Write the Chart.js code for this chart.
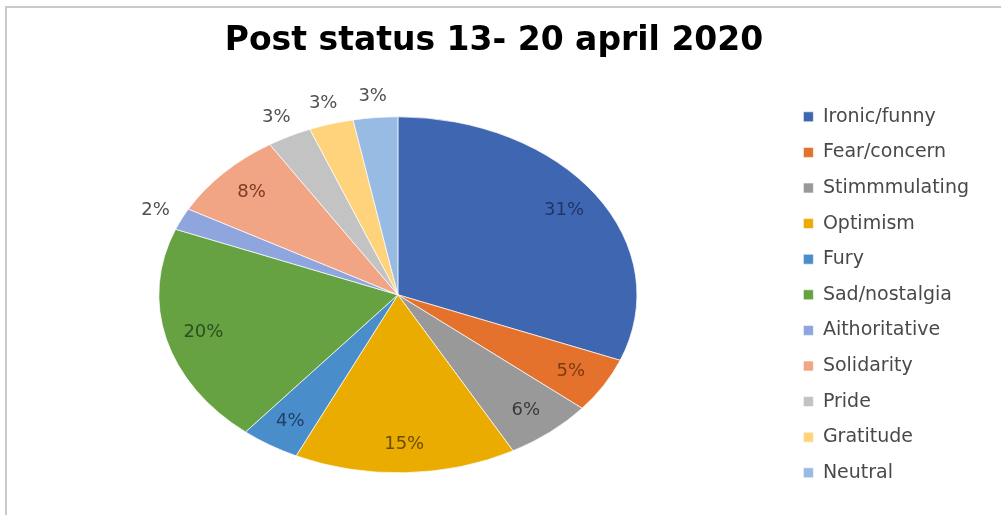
<!DOCTYPE html>
<html>
<head>
<meta charset="utf-8">
<script src="https://cdn.jsdelivr.net/npm/chart.js@4/dist/chart.umd.min.js"></script>
<style>
  body { margin: 0; background: #fff; }
  #wrap { position: relative; width: 1001px; height: 515px; overflow: hidden; }
  #frame { position: absolute; left: 5px; top: 6px; width: 1100px; height: 600px;
           border-top: 2px solid #cacaca; border-left: 2px solid #cacaca; }
  canvas { position: absolute; left: 0; top: 0; }
</style>
</head>
<body>
<div id="wrap">
  <div id="frame"></div>
  <canvas id="pie" width="1001" height="515"></canvas>
</div>
<script>
var categories = ['Ironic/funny', 'Fear/concern', 'Stimmmulating', 'Optimism', 'Fury', 'Sad/nostalgia',
                  'Aithoritative', 'Solidarity', 'Pride', 'Gratitude', 'Neutral']
var shares = [31, 5, 6, 15, 4, 20, 2, 8, 3, 3, 3]

var colors = ['#3f67b1', '#e4722c', '#999999', '#eaac00', '#4a8dcb', '#66a142',
              '#8ea5dd', '#f2a585', '#c3c3c3', '#ffd37b', '#97bbe3']
var labelColors = ['#1f3568', '#7d3a13', '#3a3a3a', '#6b4d00', '#1e3f66', '#2f4d1c',
                   '#505050', '#7a3b24', '#505050', '#505050', '#505050']

// the original pie is squashed into an ellipse
var STRETCH_X = 1.343

var stretchPlugin = {
    id: 'stretch',
    beforeDatasetsDraw(chart) {
        var arc = chart.getDatasetMeta(0).data[0]
        var ctx = chart.ctx
        ctx.save()
        ctx.translate(arc.x, arc.y)
        ctx.scale(STRETCH_X, 1)
        ctx.translate(-arc.x, -arc.y)
    },
    afterDatasetsDraw(chart) {
        chart.ctx.restore()
    }
}

var pctLabels = {
    id: 'pctLabels',
    afterDraw(chart) {
        var ctx = chart.ctx
        ctx.save()
        ctx.font = '18px "DejaVu Sans"'
        ctx.textAlign = 'center'
        ctx.textBaseline = 'middle'
        chart.getDatasetMeta(0).data.forEach((arc, i) => {
            var mid = (arc.startAngle + arc.endAngle) / 2
            var r = arc.outerRadius * (shares[i] <= 3 ? 1.12 : 0.84)
            var x = arc.x + Math.cos(mid) * r * STRETCH_X
            var y = arc.y + Math.sin(mid) * r
            ctx.fillStyle = labelColors[i]
            ctx.fillText(shares[i] + '%', x, y)
        })
        ctx.restore()
    }
}

var ctx = document.getElementById('pie').getContext('2d')
var chart = new Chart(ctx, {
    type: 'pie',
    data: {
        labels: categories,
        datasets: [{
            data: shares,
            backgroundColor: colors,
            borderColor: '#ffffff',
            borderWidth: 0.6,
            hoverOffset: 0,
            radius: 178
        }]
    },
    options: {
        responsive: false,
        animation: false,
        events: [],
        layout: { padding: { left: 9, right: 22, top: 0, bottom: 0 } },
        plugins: {
            title: {
                display: true,
                text: 'Post status 13- 20 april 2020',
                color: '#000',
                font: { family: '"DejaVu Sans"', size: 33, weight: 'bold' },
                padding: { top: 22, bottom: 13 }
            },
            legend: {
                position: 'right',
                fullSize: false,
                labels: {
                    boxWidth: 10,
                    boxHeight: 10,
                    padding: 16.6,
                    color: '#494949',
                    font: { family: '"DejaVu Sans"', size: 19 }
                }
            },
            tooltip: { enabled: false }
        }
    },
    plugins: [stretchPlugin, pctLabels]
})
</script>
</body>
</html>
